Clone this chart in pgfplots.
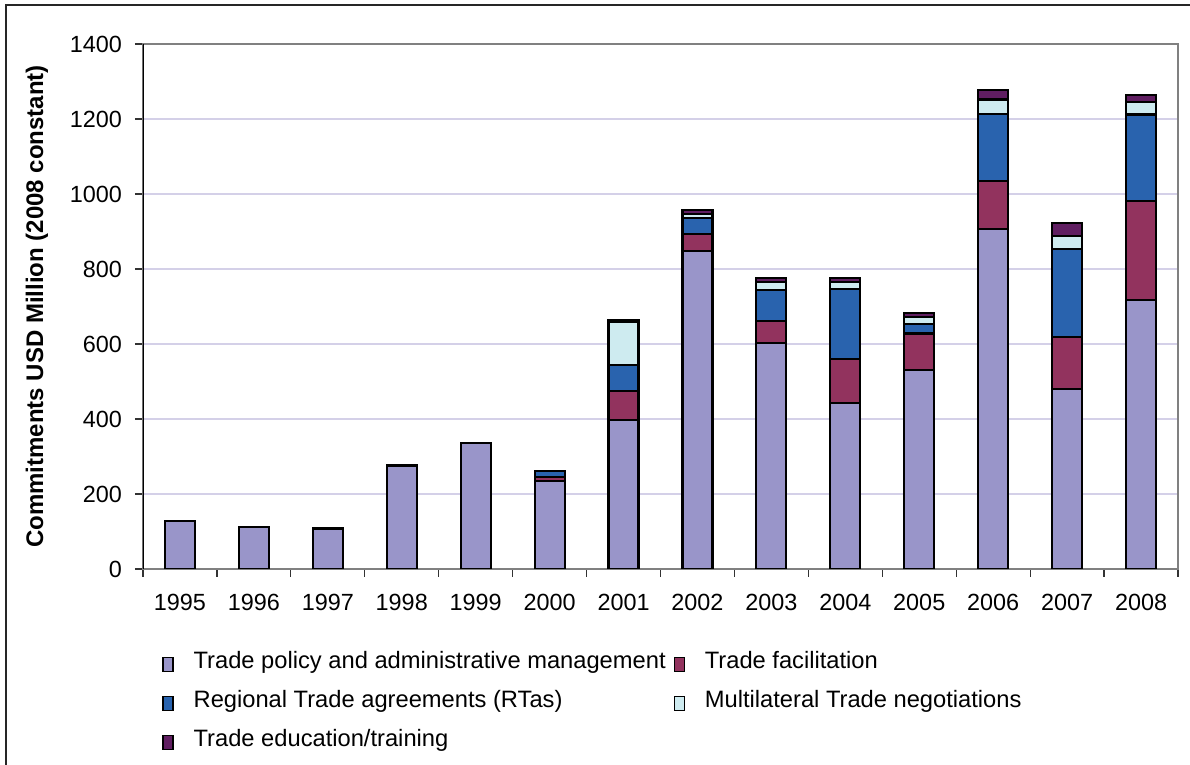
\documentclass[border=0pt]{standalone}
\usepackage{pgfplots}
\usepackage{pgfplotstable}
\pgfplotsset{compat=1.18}
\usepackage{fontspec}
\setmainfont{Liberation Sans}

\definecolor{cPol}{RGB}{153,149,201}
\definecolor{cFac}{RGB}{146,51,94}
\definecolor{cRta}{RGB}{41,99,174}
\definecolor{cMtn}{RGB}{206,235,240}
\definecolor{cEdu}{RGB}{96,30,97}
\definecolor{cGrid}{RGB}{212,208,232}

\pgfplotstableread{
x pol fac rta mtn edu
0 128 0 0 0 0
1 113 0 0 0 0
2 108 0 0 0 0
3 276 0 0 0 0
4 336 0 0 0 0
5 235 10 16 0 0
6 397 78 70 113 5
7 848 45 44 9 11
8 603 59 83 20 10
9 442 118 186 19 12
10 531 97 25 20 10
11 907 128 178 39 25
12 481 138 234 36 34
13 717 265 230 34 17
}\data

\begin{document}
\begin{tikzpicture}
\useasboundingbox (0,0) rectangle (595pt,382.5pt);
\draw[line width=1pt,black!85] (3pt,0pt) -- (3pt,380pt) -- (595pt,380pt);
\begin{axis}[
  at={(71.5pt,98pt)}, anchor=south west,
  scale only axis, width=517.5pt, height=262.5pt,
  ybar stacked, bar width=15pt,
  xmin=-0.5, xmax=13.5, ymin=0, ymax=1400,
  ytick={0,200,...,1400},
  xtick={-0.5,0.5,...,13.5},
  xticklabels={},
  extra x ticks={0,1,...,13},
  extra x tick labels={1995,1996,1997,1998,1999,2000,2001,2002,2003,2004,2005,2006,2007,2008},
  extra x tick style={major tick length=0pt, xticklabel style={yshift=-9pt}},
  tick align=outside, major tick length=4pt,
  xtick pos=bottom, ytick pos=left,
  tick style={black!80, line width=0.6pt},
  ymajorgrids, grid style={cGrid, line width=0.6pt},
  axis line style={black!50, line width=0.8pt},
  /pgf/number format/1000 sep={},
  /pgf/number format/assume math mode=true,
  ticklabel style={font=\fontsize{11.7}{13}\selectfont},
  yticklabel style={xshift=-3pt},
  ylabel={Commitments USD Million (2008 constant)},
  ylabel style={font=\fontsize{12}{14}\selectfont\bfseries, at={(axis description cs:-0.1024,0.5)}, anchor=center},
  legend columns=2,
  legend cell align=left,
  legend style={at={(axis description cs:0.0126,-0.141)}, anchor=north west, draw=none, fill=none,
    font=\fontsize{11.85}{14}\selectfont, row sep=5.5pt, column sep=2pt,
    /tikz/every odd column/.style={column sep=8pt},
    /tikz/every even column/.style={column sep=2pt}},
  legend image code/.code={\draw[#1, line width=0.6pt] (0pt,-5pt) rectangle (5pt,2pt);},
  every axis plot/.append style={draw=black, line width=1.1pt},
]
\addplot[fill=cPol] table[x=x,y=pol]{\data};
\addplot[fill=cFac] table[x=x,y=fac]{\data};
\addplot[fill=cRta] table[x=x,y=rta]{\data};
\addplot[fill=cMtn] table[x=x,y=mtn]{\data};
\addplot[fill=cEdu] table[x=x,y=edu]{\data};
\legend{Trade policy and administrative management, Trade facilitation, Regional Trade agreements (RTas), Multilateral Trade negotiations, Trade education/training}
\draw[black, line width=0.9pt] (rel axis cs:0,0) -- (rel axis cs:0,1);
\end{axis}
\end{tikzpicture}
\end{document}
